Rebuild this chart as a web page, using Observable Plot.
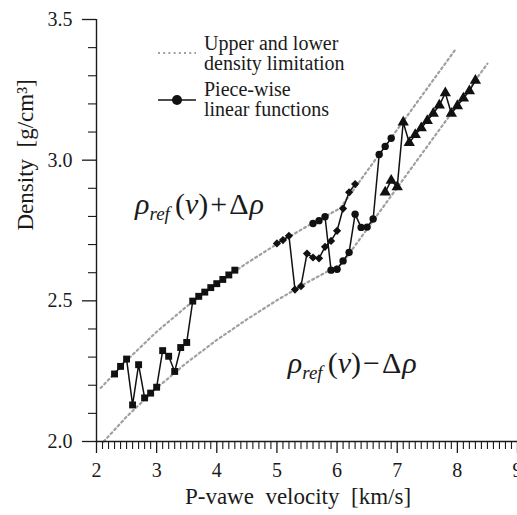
<!DOCTYPE html>
<html>
<head>
<meta charset="utf-8">
<script src="https://cdn.jsdelivr.net/npm/d3@7"></script>
<script src="https://cdn.jsdelivr.net/npm/@observablehq/plot@0.6"></script>
<style>
  body { margin: 0; background: #fff; }
  #chart svg { display: block; }
  #chart svg text, #chart svg tspan { font-family: "Liberation Serif", "Times New Roman", serif; }
</style>
</head>
<body>
<div id="chart"></div>
<script>
// ---- Data ----
// Series 1 (squares)
const sqV   = [2.3, 2.4, 2.5, 2.6, 2.7, 2.8, 2.9, 3.0, 3.1, 3.2, 3.3, 3.4, 3.5, 3.6, 3.7, 3.8, 3.9, 4.0, 4.1, 4.2, 4.3];
const sqRho = [2.240, 2.267, 2.293, 2.130, 2.273, 2.155, 2.172, 2.193, 2.323, 2.303, 2.249, 2.334, 2.352, 2.499, 2.516, 2.531, 2.547, 2.561, 2.576, 2.592, 2.609];
// Series 2 (diamonds)
const diV   = [5.0, 5.1, 5.2, 5.3, 5.4, 5.5, 5.6, 5.7, 5.8, 5.9, 6.0, 6.1, 6.2, 6.3];
const diRho = [2.704, 2.716, 2.731, 2.540, 2.552, 2.668, 2.654, 2.651, 2.692, 2.713, 2.749, 2.828, 2.886, 2.915];
// Series 3 (circles)
const ciV   = [5.6, 5.7, 5.8, 5.9, 6.0, 6.1, 6.2, 6.3, 6.4, 6.5, 6.6, 6.7, 6.8, 6.9];
const ciRho = [2.775, 2.785, 2.799, 2.609, 2.612, 2.642, 2.672, 2.808, 2.761, 2.762, 2.791, 3.020, 3.049, 3.078];
// Series 4 (triangles)
const trV   = [6.8, 6.9, 7.0, 7.1, 7.2, 7.3, 7.4, 7.5, 7.6, 7.7, 7.8, 7.9, 8.0, 8.1, 8.2, 8.3];
const trRho = [2.886, 2.928, 2.905, 3.135, 3.062, 3.090, 3.114, 3.140, 3.166, 3.195, 3.239, 3.166, 3.193, 3.220, 3.246, 3.283];
// Upper and lower density limitation (dotted)
const upV   = [2.07, 2.5, 3.0, 3.5, 4.0, 4.5, 5.0, 5.5, 6.05, 7.98];
const upRho = [2.19, 2.288, 2.390, 2.480, 2.561, 2.634, 2.702, 2.765, 2.829, 3.397];
const loV   = [2.12, 2.5, 3.0, 3.5, 4.0, 4.5, 5.0, 5.5, 6.08, 8.50];
const loRho = [2.00, 2.088, 2.190, 2.280, 2.361, 2.434, 2.502, 2.565, 2.632, 3.343];
// Axes
const xMajor = [2, 3, 4, 5, 6, 7, 8, 9];
const yMajor = [2.0, 2.5, 3.0, 3.5];
const xMinor = d3.range(21, 90).filter(d => d % 10 !== 0).map(d => d / 10);
const yMinor = d3.range(21, 35).filter(d => d % 5 !== 0).map(d => d / 10);
const xTitle = "P-vawe\u00a0 velocity\u00a0 [km/s]";
const yTitle = "Density\u00a0 [g/cm\u00b3]";
const legendLabels = [["Upper and lower", "density limitation"], ["Piece-wise", "linear functions"]];
// Annotations
const annotV   = [2.65, 5.19];
const annotRho = [2.806, 2.243];
const annotSign = ["+", "\u2212"];

// ---- Build tables ----
const zip = (vs, rs, s) => vs.map((v, i) => ({v, rho: rs[i], s}));
const series = [
  ...zip(sqV, sqRho, "sq"),
  ...zip(diV, diRho, "di"),
  ...zip(ciV, ciRho, "ci"),
  ...zip(trV, trRho, "tr")
];
const bounds = [...zip(upV, upRho, "up"), ...zip(loV, loRho, "lo")];

const FONT = "Liberation Serif, Times New Roman, serif";
const INK = "#1a1a1a";

const plot = Plot.plot({
  width: 517,
  height: 515,
  marginLeft: 96,
  marginRight: 0,
  marginTop: 19,
  marginBottom: 74,
  x: {domain: [2, 9]},
  y: {domain: [2, 3.5]},
  style: {fontFamily: FONT, fontSize: "19px", color: INK, background: "#fff", overflow: "hidden"},
  marks: [
    Plot.line(bounds, {x: "v", y: "rho", z: "s", stroke: "#a0a0a0", strokeWidth: 2.2, strokeDasharray: "2,3.2"}),
    Plot.line(series, {x: "v", y: "rho", z: "s", stroke: "#111", strokeWidth: 1.5}),
    Plot.dot(series.filter(d => d.s === "sq"), {x: "v", y: "rho", symbol: "square", r: 3.9, fill: "#111"}),
    Plot.dot(series.filter(d => d.s === "di"), {x: "v", y: "rho", symbol: "diamond2", r: 3.7, fill: "#111"}),
    Plot.dot(series.filter(d => d.s === "ci"), {x: "v", y: "rho", symbol: "circle", r: 3.7, fill: "#111"}),
    Plot.dot(series.filter(d => d.s === "tr"), {x: "v", y: "rho", symbol: "triangle", r: 4.2, fill: "#111"}),
    Plot.ruleX([2], {stroke: INK, strokeWidth: 1.4}),
    Plot.ruleY([2], {stroke: INK, strokeWidth: 1.4}),
    Plot.axisX(xMajor, {tickSize: 12, tickPadding: 9, strokeWidth: 1.3, tickFormat: d => String(d), label: null, fontSize: 20}),
    Plot.axisX(xMinor, {tickSize: 8, strokeWidth: 1.1, tickFormat: () => "", label: null}),
    Plot.axisY(yMajor, {tickSize: 14, tickPadding: 10, strokeWidth: 1.3, tickFormat: d => d.toFixed(1), label: null, fontSize: 20}),
    Plot.axisY(yMinor, {tickSize: 8, strokeWidth: 1.1, tickFormat: () => "", label: null}),
    Plot.text([xTitle], {frameAnchor: "bottom", dx: -9, dy: 62, lineAnchor: "bottom", fontSize: 23, fill: INK}),
    Plot.text([yTitle], {frameAnchor: "left", dx: -71, rotate: -90, lineAnchor: "middle", fontSize: 23, fill: INK})
  ]
});

const svg = d3.select(plot);
const xs = plot.scale("x"), ys = plot.scale("y");

// Annotations rho_ref(v) ± Δρ
annotV.forEach((v, i) => {
  const t = svg.append("text")
    .attr("x", xs.apply(v)).attr("y", ys.apply(annotRho[i]))
    .attr("text-anchor", "start")
    .attr("font-family", FONT).attr("font-size", 30).attr("fill", INK);
  t.append("tspan").attr("font-style", "italic").text("\u03c1");
  t.append("tspan").attr("font-style", "italic").attr("font-size", 19).attr("dy", 6).text("ref");
  t.append("tspan").attr("dy", -6).attr("dx", 5).text("(");
  t.append("tspan").attr("font-style", "italic").text("\u03bd");
  t.append("tspan").text(")");
  t.append("tspan").attr("dx", 2).text(annotSign[i]);
  t.append("tspan").attr("dx", 2).text("\u0394");
  t.append("tspan").attr("dx", 1).attr("font-style", "italic").text("\u03c1");
});

// Legend
const lg = svg.append("g").attr("font-family", FONT).attr("font-size", 20).attr("fill", INK).attr("text-anchor", "start");
lg.append("line").attr("x1", 158).attr("x2", 196).attr("y1", 53).attr("y2", 53)
  .attr("stroke", "#a0a0a0").attr("stroke-width", 2.2).attr("stroke-dasharray", "2,3.2");
lg.append("line").attr("x1", 158).attr("x2", 196).attr("y1", 100).attr("y2", 100)
  .attr("stroke", "#111").attr("stroke-width", 1.5);
lg.append("circle").attr("cx", 177).attr("cy", 100).attr("r", 5).attr("fill", "#111");
const baselines = [[50, 70], [96, 116]];
legendLabels.forEach((lines, i) => {
  lines.forEach((txt, j) => {
    lg.append("text").attr("x", 204).attr("y", baselines[i][j]).text(txt);
  });
});

document.getElementById("chart").appendChild(plot);
</script>
</body>
</html>
